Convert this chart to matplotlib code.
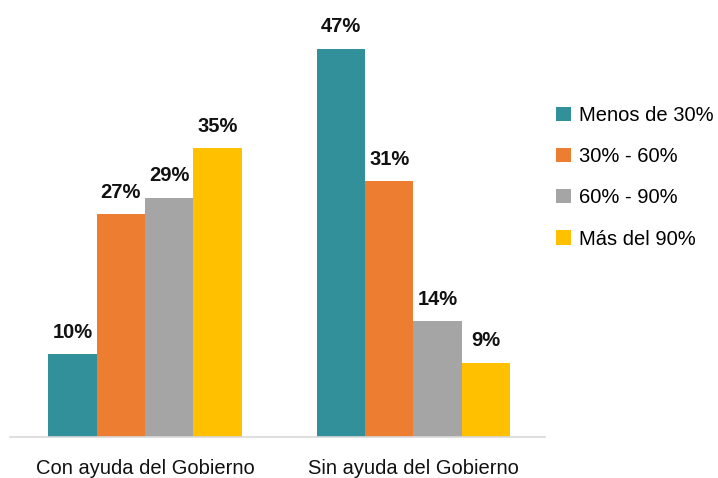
import matplotlib
matplotlib.use("Agg")
import matplotlib.pyplot as plt
import numpy as np

plt.rcParams['font.family'] = ['Liberation Sans', 'DejaVu Sans']

categories = ["Con ayuda del Gobierno", "Sin ayuda del Gobierno"]
series_names = ["Menos de 30%", "30% - 60%", "60% - 90%", "Más del 90%"]
menos_30 = [10, 47]
de30_60 = [27, 31]
de60_90 = [29, 14]
mas_90 = [35, 9]
series_values = [menos_30, de30_60, de60_90, mas_90]
colors = ["#31909A", "#ED7D31", "#A5A5A5", "#FFC000"]

fig = plt.figure(figsize=(7.18, 4.78), dpi=100)
ax = fig.add_axes([0.0139, 0.0858, 0.745, 0.893])

x = np.arange(len(categories))
w = 0.18
for i, (name, vals, c) in enumerate(zip(series_names, series_values, colors)):
    pos = x + (i - 1.5) * w
    bars = ax.bar(pos, vals, width=w, color=c, label=name)
    for b, v in zip(bars, vals):
        ax.annotate(f"{v}%", (b.get_x() + b.get_width() / 2, v),
                    xytext=(0, 9), textcoords="offset points",
                    ha="center", va="bottom", fontsize=14.5, fontweight="bold",
                    color="#111111")

ax.set_xlim(-0.503, 1.49)
ax.set_ylim(0, 51.7)
ax.set_xticks(x)
ax.set_xticklabels(categories, fontsize=14.5, color="#111111")
ax.tick_params(axis="x", length=0, pad=16)
ax.set_yticks([])
for s in ["top", "right", "left"]:
    ax.spines[s].set_visible(False)
ax.spines["bottom"].set_color("#D9D9D9")
ax.spines["bottom"].set_linewidth(1.2)

fig.legend(loc="upper left", bbox_to_anchor=(0.775, 0.778), frameon=False,
           fontsize=14.5, handlelength=0.7, handleheight=0.7, handletextpad=0.4,
           labelspacing=1.1, borderaxespad=0, borderpad=0)

fig.savefig("out.png", dpi=100)
